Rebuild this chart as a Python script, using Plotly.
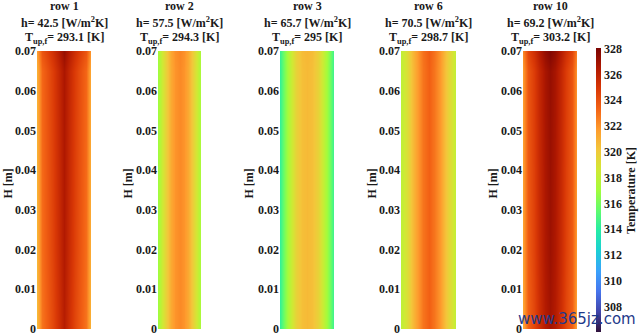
import plotly.graph_objects as go

# ---- data ----
rows = ["row 1", "row 2", "row 3", "row 6", "row 10"]
h_vals = ["42.5", "57.5", "65.7", "70.5", "69.2"]
t_vals = ["293.1", "294.3", "295", "298.7", "303.2"]

# normalized position across the width of each row
x_pos = [0.0, 0.1, 0.2, 0.3, 0.4, 0.5, 0.6, 0.7, 0.8, 0.9, 1.0]
# heights [m]
y_pos = [0.0, 0.02, 0.045, 0.065, 0.07]

# lateral temperature profiles [K]
prof_row1 = [320.8, 323.0, 323.8, 324.5, 325.5, 326.4, 325.5, 324.5, 323.8, 323.0, 320.8]
prof_row2 = [316.9, 318.4, 320.0, 321.2, 321.9, 322.2, 321.9, 321.2, 320.0, 318.4, 316.9]
prof_row3 = [314.3, 316.2, 318.2, 319.6, 320.4, 320.6, 320.4, 319.6, 318.2, 316.2, 314.3]
prof_row6 = [317.9, 319.0, 320.4, 321.8, 322.8, 323.4, 322.8, 321.8, 320.4, 319.0, 317.9]
prof_row10 = [321.5, 323.6, 324.5, 325.5, 326.5, 327.0, 326.5, 325.5, 324.5, 323.6, 321.5]
profiles = [prof_row1, prof_row2, prof_row3, prof_row6, prof_row10]

# vertical offsets [K] at each height
vert_row1 = [-0.2, 0.0, 0.1, 0.2, 0.8]
vert_row2 = [0.0, 0.0, 0.0, 0.0, 0.1]
vert_row3 = [0.0, 0.0, 0.0, 0.0, 0.1]
vert_row6 = [0.0, 0.0, 0.0, 0.0, 0.1]
vert_row10 = [-0.2, 0.0, 0.1, 0.2, 0.8]
verts = [vert_row1, vert_row2, vert_row3, vert_row6, vert_row10]

y_ticks = [0, 0.01, 0.02, 0.03, 0.04, 0.05, 0.06, 0.07]
y_ticktext = ["0", "0.01", "0.02", "0.03", "0.04", "0.05", "0.06", "0.07"]
cbar_ticks = [306, 308, 310, 312, 314, 316, 318, 320, 322, 324, 326, 328]

# ---- layout geometry (pixels) ----
W, H = 640, 336
top, bottom = 51, 4
panel_px = [(37, 91), (158, 201), (280, 334), (401, 456), (523, 577)]
hlabel_px = [8, 128, 249, 372, 493]

FONT = "Liberation Serif"
TXT = "#1a1a1a"
plot_h = H - top - bottom


def py2paper(py):
    return (H - bottom - py) / plot_h


def b(s):
    return f"<b>{s}</b>"


fig = go.Figure()
layout = dict(
    width=W, height=H,
    margin=dict(l=0, r=0, t=top, b=bottom),
    paper_bgcolor="white", plot_bgcolor="white",
    showlegend=False,
    coloraxis=dict(
        colorscale="Turbo", cmin=306, cmax=328,
        colorbar=dict(
            x=596 / W, xanchor="left", xref="paper",
            y=py2paper(192), yanchor="middle", yref="paper",
            lenmode="pixels", len=284, thickness=5,
            xpad=0, ypad=0, outlinewidth=0,
            tickvals=cbar_ticks, ticktext=[b(t) for t in cbar_ticks], ticks="",
            tickfont=dict(family=FONT, size=12, color=TXT),
            title=dict(text=b("Temperature [K]"), side="right",
                       font=dict(family=FONT, size=12, color=TXT)),
        ),
    ),
)

annotations = []
title_font = dict(family=FONT, size=12, color=TXT)
for i in range(5):
    z = [[v + off for v in profiles[i]] for off in verts[i]]
    xa = "x" if i == 0 else f"x{i+1}"
    ya = "y" if i == 0 else f"y{i+1}"
    fig.add_trace(go.Heatmap(
        x=x_pos, y=y_pos, z=z, coloraxis="coloraxis",
        zsmooth="best", xaxis=xa, yaxis=ya,
    ))
    x0, x1 = panel_px[i]
    key = "" if i == 0 else str(i + 1)
    layout["xaxis" + key] = dict(
        domain=[x0 / W, x1 / W], range=[0, 1], anchor=ya,
        showticklabels=False, showgrid=False, zeroline=False, showline=False, ticks="",
    )
    layout["yaxis" + key] = dict(
        domain=[0, 1], range=[0, 0.07], anchor=xa,
        tickvals=y_ticks, ticktext=[b(t) for t in y_ticktext], ticks="",
        ticklabeloverflow="allow",
        showgrid=False, zeroline=False, showline=False,
        tickfont=dict(family=FONT, size=12, color=TXT),
    )
    cx = (x0 + x1) / 2 / W
    annotations.append(dict(xref="paper", yref="paper", x=cx, y=py2paper(6),
                            text=b(rows[i]), showarrow=False,
                            xanchor="center", yanchor="middle", font=title_font))
    annotations.append(dict(xref="paper", yref="paper", x=cx, y=py2paper(22.5),
                            text=b(f"h= {h_vals[i]} [W/m<sup>2</sup>K]"), showarrow=False,
                            xanchor="center", yanchor="middle", font=title_font))
    annotations.append(dict(xref="paper", yref="paper", x=cx, y=py2paper(38),
                            text=b(f"T<sub>up,f</sub>= {t_vals[i]} [K]"), showarrow=False,
                            xanchor="center", yanchor="middle", font=title_font))
    annotations.append(dict(xref="paper", yref="paper", x=hlabel_px[i] / W, y=py2paper(185),
                            text=b("H [m]"), showarrow=False, textangle=-90,
                            xanchor="center", yanchor="middle", font=title_font))

annotations.append(dict(xref="paper", yref="paper", x=638 / W, y=py2paper(322),
                        text="www.365jz.com", showarrow=False, xanchor="right",
                        yanchor="middle",
                        font=dict(family="DejaVu Sans", size=15, color="#1f3a8a")))
layout["annotations"] = annotations
fig.update_layout(**layout)
fig.write_html("out.html")
